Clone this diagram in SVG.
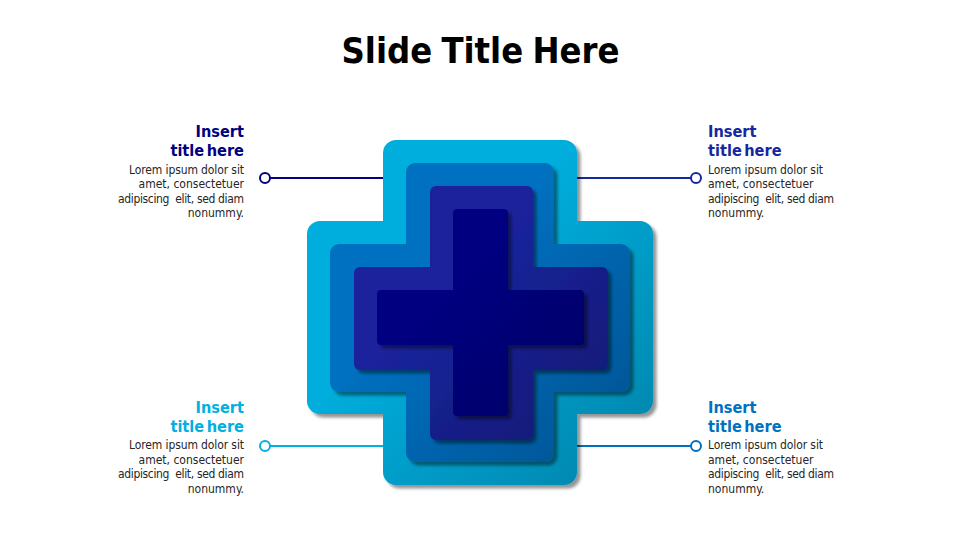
<svg xmlns="http://www.w3.org/2000/svg" width="960" height="540" viewBox="0 0 960 540">
<style>
text{font-family:"DejaVu Sans Condensed","DejaVu Sans",sans-serif;white-space:pre}
.t{font-size:36px;font-weight:700;fill:#000;text-anchor:middle;word-spacing:-2px}
.h{font-size:16.2px;font-weight:700;word-spacing:-2.600px}
.b{font-size:12px;fill:#262626}
.r{text-anchor:end}
.l{stroke-width:2;fill:none}
.c{stroke-width:2;fill:#fff}
</style>
<defs>
<filter id="s" x="-10%" y="-10%" width="125%" height="125%"><feDropShadow dx="3.500" dy="3.500" stdDeviation="1.700" flood-color="#000" flood-opacity="0.42"/></filter>
<linearGradient id="g1" x1="0" y1="0" x2="1" y2="1"><stop offset="0.38" stop-color="#00AEDD"/><stop offset="1" stop-color="#0082A8"/></linearGradient>
<linearGradient id="g2" x1="0" y1="0" x2="1" y2="1"><stop offset="0.38" stop-color="#0070C0"/><stop offset="1" stop-color="#005290"/></linearGradient>
<linearGradient id="g3" x1="0" y1="0" x2="1" y2="1"><stop offset="0.38" stop-color="#1A239C"/><stop offset="1" stop-color="#0F1A70"/></linearGradient>
<linearGradient id="g4" x1="0" y1="0" x2="1" y2="1"><stop offset="0.38" stop-color="#000080"/><stop offset="1" stop-color="#000064"/></linearGradient>
</defs>
<text class="t" x="480.500" y="63">Slide Title Here</text>
<g id="connectors">
<line class="l" x1="270" y1="178" x2="384" y2="178" stroke="#000080"/>
<line class="l" x1="576" y1="178" x2="691" y2="178" stroke="#1428A0"/>
<line class="l" x1="270" y1="446" x2="384" y2="446" stroke="#00B0E0"/>
<line class="l" x1="576" y1="446" x2="691" y2="446" stroke="#0070C0"/>
<circle class="c" cx="265" cy="178" r="5" stroke="#000080"/>
<circle class="c" cx="696" cy="178" r="5" stroke="#1428A0"/>
<circle class="c" cx="265" cy="446" r="5" stroke="#00B0E0"/>
<circle class="c" cx="696" cy="446" r="5" stroke="#0070C0"/>
</g>
<g id="cross1"><path fill="url(#g1)" filter="url(#s)" d="M396 140H564a13 13 0 0 1 13 13V221H640a13 13 0 0 1 13 13V401a13 13 0 0 1 -13 13H577V472a13 13 0 0 1 -13 13H396a13 13 0 0 1 -13 -13V414H320a13 13 0 0 1 -13 -13V234a13 13 0 0 1 13 -13H383V153a13 13 0 0 1 13 -13Z"/></g>
<g id="cross2"><path fill="url(#g2)" filter="url(#s)" d="M415 163H545a9 9 0 0 1 9 9V244H621a9 9 0 0 1 9 9V383a9 9 0 0 1 -9 9H554V453a9 9 0 0 1 -9 9H415a9 9 0 0 1 -9 -9V392H339a9 9 0 0 1 -9 -9V253a9 9 0 0 1 9 -9H406V172a9 9 0 0 1 9 -9Z"/></g>
<g id="cross3"><path fill="url(#g3)" filter="url(#s)" d="M436 186H527a6 6 0 0 1 6 6V267H602a6 6 0 0 1 6 6V364a6 6 0 0 1 -6 6H533V434a6 6 0 0 1 -6 6H436a6 6 0 0 1 -6 -6V370H360a6 6 0 0 1 -6 -6V273a6 6 0 0 1 6 -6H430V192a6 6 0 0 1 6 -6Z"/></g>
<g id="cross4"><path fill="url(#g4)" filter="url(#s)" d="M457 209H504a4 4 0 0 1 4 4V290H580a4 4 0 0 1 4 4V341a4 4 0 0 1 -4 4H508V412a4 4 0 0 1 -4 4H457a4 4 0 0 1 -4 -4V345H381a4 4 0 0 1 -4 -4V294a4 4 0 0 1 4 -4H453V213a4 4 0 0 1 4 -4Z"/></g>
<g id="tl">
<text class="h r" fill="#000080" x="244" y="137">Insert</text><text class="h r" fill="#000080" x="244" y="156">title here</text>
<text class="b r" x="244" y="174" textLength="115">Lorem ipsum dolor sit</text><text class="b r" x="244" y="188">amet, consectetuer</text><text class="b r" x="244" y="203" textLength="126">adipiscing  elit, sed diam</text><text class="b r" x="244" y="217">nonummy.</text>
</g>
<g id="tr">
<text class="h" fill="#1428A0" x="708" y="137">Insert</text><text class="h" fill="#1428A0" x="708" y="156">title here</text>
<text class="b" x="708" y="174" textLength="115">Lorem ipsum dolor sit</text><text class="b" x="708" y="188">amet, consectetuer</text><text class="b" x="708" y="203" textLength="126">adipiscing  elit, sed diam</text><text class="b" x="708" y="217">nonummy.</text>
</g>
<g id="bl">
<text class="h r" fill="#00B0E0" x="244" y="413">Insert</text><text class="h r" fill="#00B0E0" x="244" y="432">title here</text>
<text class="b r" x="244" y="449" textLength="115">Lorem ipsum dolor sit</text><text class="b r" x="244" y="464">amet, consectetuer</text><text class="b r" x="244" y="478" textLength="126">adipiscing  elit, sed diam</text><text class="b r" x="244" y="493">nonummy.</text>
</g>
<g id="br">
<text class="h" fill="#0070C0" x="708" y="413">Insert</text><text class="h" fill="#0070C0" x="708" y="432">title here</text>
<text class="b" x="708" y="449" textLength="115">Lorem ipsum dolor sit</text><text class="b" x="708" y="464">amet, consectetuer</text><text class="b" x="708" y="478" textLength="126">adipiscing  elit, sed diam</text><text class="b" x="708" y="493">nonummy.</text>
</g>
</svg>
